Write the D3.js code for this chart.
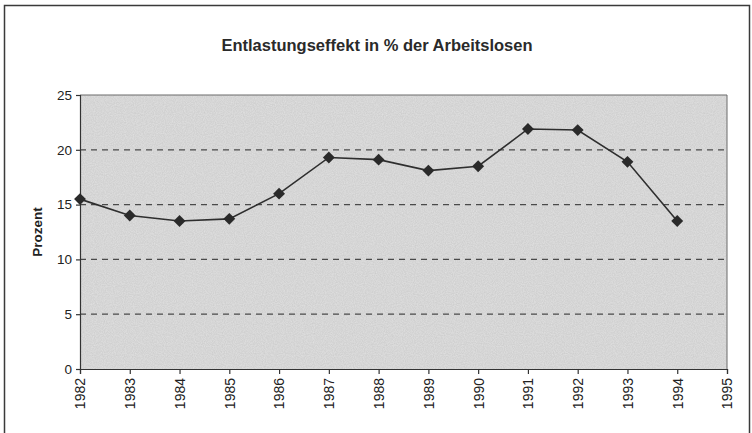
<!DOCTYPE html>
<html>
<head>
<meta charset="utf-8">
<script src="https://cdn.jsdelivr.net/npm/d3@7"></script>
<style>
  body { margin: 0; background: #fff; }
  svg { display: block; font-family: "Liberation Sans", Arial, sans-serif; }
</style>
</head>
<body>
<div id="chart"></div>
<script>
  "use strict";

  // chart data
  var title = "Entlastungseffekt in % der Arbeitslosen"
  var yLabel = "Prozent"
  var years = [1982, 1983, 1984, 1985, 1986, 1987, 1988, 1989, 1990, 1991, 1992, 1993, 1994]
  var values = [15.5, 14.0, 13.5, 13.7, 16.0, 19.3, 19.1, 18.1, 18.5, 21.9, 21.8, 18.9, 13.5]
  var xTicks = [1982, 1983, 1984, 1985, 1986, 1987, 1988, 1989, 1990, 1991, 1992, 1993, 1994, 1995]
  var yTicks = [0, 5, 10, 15, 20, 25]

  var width = 752
    , height = 433
    , plot = { left: 80, right: 727, top: 95, bottom: 369 }

  var svg = d3.select("#chart")
    .append("svg")
      .attr("width", width)
      .attr("height", height)

  // paper grain for the scanned look
  var defs = svg.append("defs")
  var grain = defs.append("filter")
      .attr("id", "grain")
      .attr("x", 0).attr("y", 0).attr("width", "100%").attr("height", "100%")
  grain.append("feTurbulence")
      .attr("type", "fractalNoise")
      .attr("baseFrequency", 0.9)
      .attr("numOctaves", 2)
      .attr("seed", 3)
  grain.append("feColorMatrix")
      .attr("type", "matrix")
      .attr("values", "0 0 0 0 0  0 0 0 0 0  0 0 0 0 0  0 0 0 0.3 0")

  var x = d3.scaleLinear()
      .domain([xTicks[0], xTicks[xTicks.length - 1]])
      .range([plot.left, plot.right])

  var y = d3.scaleLinear()
      .domain([0, 25])
      .range([plot.bottom, plot.top])

  // outer frame
  svg.append("rect")
      .attr("x", 4.5)
      .attr("y", 5.5)
      .attr("width", 745)
      .attr("height", 440)
      .attr("fill", "none")
      .attr("stroke", "#3a3a3a")
      .attr("stroke-width", 1.5)

  // title
  svg.append("text")
      .attr("x", 377)
      .attr("y", 51)
      .attr("text-anchor", "middle")
      .attr("font-size", "16.5px")
      .attr("font-weight", "bold")
      .attr("fill", "#2a2a2a")
      .text(title)

  // plot background
  svg.append("rect")
      .attr("x", plot.left)
      .attr("y", plot.top)
      .attr("width", plot.right - plot.left)
      .attr("height", plot.bottom - plot.top)
      .attr("fill", "#e2e2e2")
  svg.append("rect")
      .attr("x", plot.left)
      .attr("y", plot.top)
      .attr("width", plot.right - plot.left)
      .attr("height", plot.bottom - plot.top)
      .attr("fill", "#fff")
      .attr("filter", "url(#grain)")
      .attr("opacity", 0.35)

  // dashed grid
  svg.append("g")
    .selectAll("line")
      .data(yTicks.filter(function (d) { return d > 0 && d < 25 }))
    .enter().append("line")
      .attr("x1", plot.left)
      .attr("x2", plot.right)
      .attr("y1", function (d) { return y(d) })
      .attr("y2", function (d) { return y(d) })
      .attr("stroke", "#4a4a4a")
      .attr("stroke-width", 1.2)
      .attr("stroke-dasharray", "6,5")

  // plot border (top / right)
  svg.append("path")
      .attr("d", "M" + plot.left + "," + plot.top + "H" + plot.right + "V" + plot.bottom)
      .attr("fill", "none")
      .attr("stroke", "#6a6a6a")
      .attr("stroke-width", 1)

  // axes
  var yAxis = svg.append("g")
      .attr("transform", "translate(" + plot.left + ",0)")
      .call(d3.axisLeft(y).tickValues(yTicks).tickSize(4).tickPadding(4))
  yAxis.selectAll("text")
      .attr("font-size", "13.5px")
      .attr("fill", "#222")
      .attr("font-family", "Liberation Sans, Arial, sans-serif")

  var xAxis = svg.append("g")
      .attr("transform", "translate(0," + plot.bottom + ")")
      .call(d3.axisBottom(x).tickValues(xTicks).tickFormat(d3.format("d")).tickSize(5))
  xAxis.selectAll("text")
      .attr("font-size", "14px")
      .attr("fill", "#222")
      .attr("font-family", "Liberation Sans, Arial, sans-serif")
      .attr("text-anchor", "end")
      .attr("transform", "rotate(-90)")
      .attr("x", -9)
      .attr("y", 0)
      .attr("dy", "0.35em")

  svg.selectAll(".domain, .tick line")
      .attr("stroke", "#333")
      .attr("stroke-width", 1.2)

  // axis title
  svg.append("text")
      .attr("transform", "translate(42," + y(12.5) + ") rotate(-90)")
      .attr("text-anchor", "middle")
      .attr("font-size", "13.5px")
      .attr("font-weight", "bold")
      .attr("fill", "#222")
      .text(yLabel)

  // series line and markers
  var series = years.map(function (d, i) { return { year: d, value: values[i] } })

  svg.append("path")
      .datum(series)
      .attr("fill", "none")
      .attr("stroke", "#2e2e2e")
      .attr("stroke-width", 1.6)
      .attr("d", d3.line()
        .x(function (d) { return x(d.year) })
        .y(function (d) { return y(d.value) }))

  svg.append("g")
    .selectAll("path")
      .data(series)
    .enter().append("path")
      .attr("transform", function (d) { return "translate(" + x(d.year) + "," + y(d.value) + ")" })
      .attr("d", d3.symbol().type(d3.symbolDiamond2).size(90))
      .attr("fill", "#2a2a2a")
</script>
</body>
</html>
